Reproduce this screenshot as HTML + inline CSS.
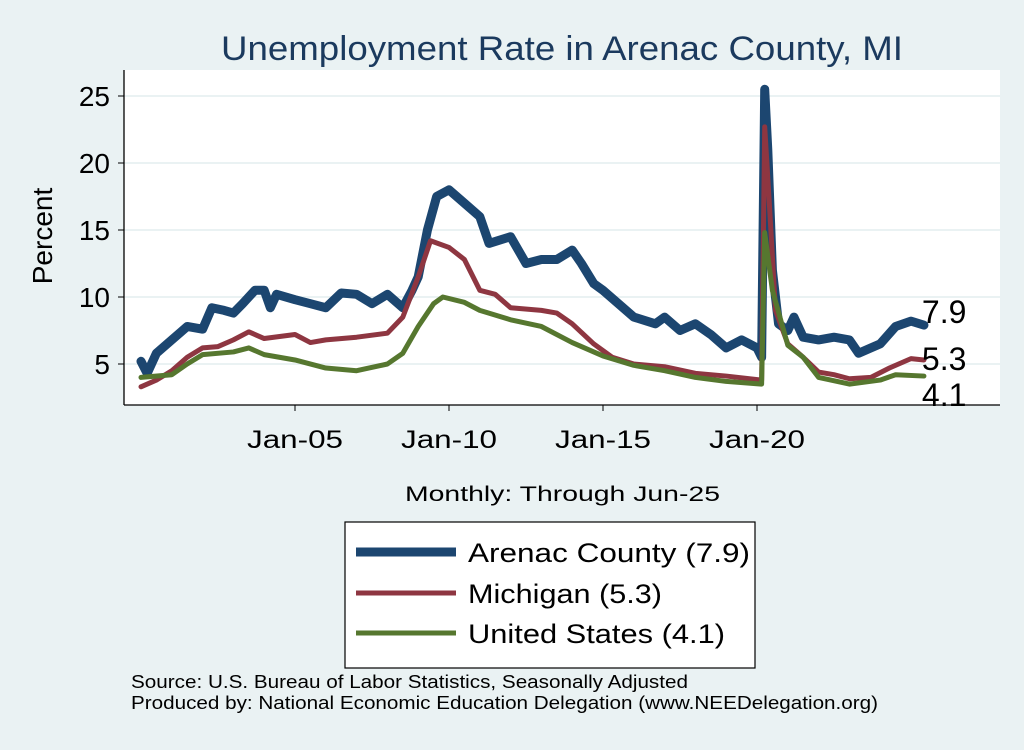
<!DOCTYPE html>
<html><head><meta charset="utf-8"><style>
body{margin:0;background:#eaf2f3;font-family:"Liberation Sans",sans-serif}
</style></head><body>
<svg width="1024" height="745" xmlns="http://www.w3.org/2000/svg" font-family="Liberation Sans, sans-serif">
<rect width="1024" height="745" fill="#eaf2f3"/>
<text x="221" y="60" font-size="34" fill="#1b3a5e" textLength="682" lengthAdjust="spacingAndGlyphs">Unemployment Rate in Arenac  County, MI</text>
<rect x="124" y="70" width="876" height="335" fill="#fff"/>
<g id="grid"></g>
<g id="series"></g>
<line x1="124" y1="70" x2="124" y2="405" stroke="#000" stroke-width="1.3"/>
<line x1="124" y1="405" x2="1000" y2="405" stroke="#000" stroke-width="1.3"/>
<g id="axes"></g>
<text x="52" y="236" font-size="28" text-anchor="middle" transform="rotate(-90 52 236)">Percent</text>
<text x="405" y="501" font-size="21" textLength="315" lengthAdjust="spacingAndGlyphs">Monthly: Through Jun-25</text>
<g>
<rect x="345" y="522" width="410" height="146" fill="#fff" stroke="#000" stroke-width="1.2"/>
<line x1="356" y1="552" x2="456" y2="552" stroke="#1c4670" stroke-width="9"/>
<text x="468" y="562" font-size="27" textLength="282" lengthAdjust="spacingAndGlyphs">Arenac  County (7.9)</text>
<line x1="356" y1="593" x2="456" y2="593" stroke="#8e3641" stroke-width="5"/>
<text x="468" y="603" font-size="27" textLength="194" lengthAdjust="spacingAndGlyphs">Michigan (5.3)</text>
<line x1="356" y1="633" x2="456" y2="633" stroke="#56772f" stroke-width="5"/>
<text x="468" y="643" font-size="27" textLength="257" lengthAdjust="spacingAndGlyphs">United States (4.1)</text>
</g>
<text x="131" y="688" font-size="18" textLength="557" lengthAdjust="spacingAndGlyphs">Source: U.S. Bureau of Labor Statistics, Seasonally Adjusted</text>
<text x="131" y="709" font-size="18" textLength="747" lengthAdjust="spacingAndGlyphs">Produced by: National Economic Education Delegation (www.NEEDelegation.org)</text>
</svg>
<script>
const yTicks=[5,10,15,20,25];
const xTickYears=[2005,2010,2015,2020];
const xTickLabels=["Jan-05","Jan-10","Jan-15","Jan-20"];
const arenacDates=[2000,2000.2,2000.5,2001,2001.3,2001.5,2002,2002.3,2002.7,2003,2003.3,2003.7,2004,2004.2,2004.4,2005,2005.5,2006,2006.5,2007,2007.5,2008,2008.5,2008.8,2009,2009.3,2009.6,2010,2010.5,2011,2011.3,2012,2012.5,2013,2013.5,2014,2014.3,2014.7,2015,2015.5,2016,2016.7,2017,2017.5,2018,2018.5,2019,2019.5,2020,2020.15,2020.25,2020.35,2020.5,2020.7,2021,2021.2,2021.5,2022,2022.5,2023,2023.3,2023.7,2024,2024.5,2025,2025.42];
const arenacValues=[5.2,4.3,5.8,6.8,7.4,7.8,7.6,9.2,9.0,8.8,9.5,10.5,10.5,9.2,10.2,9.8,9.5,9.2,10.3,10.2,9.5,10.2,9.2,10.5,11.5,15,17.5,18,17,16,14,14.5,12.5,12.8,12.8,13.5,12.5,11,10.5,9.5,8.5,8,8.5,7.5,8,7.2,6.2,6.8,6.2,5.5,25.5,21,12,8,7.5,8.5,7,6.8,7,6.8,5.8,6.2,6.5,7.8,8.2,7.9];
const michDates=[2000,2000.5,2001,2001.5,2002,2002.5,2003,2003.5,2004,2005,2005.5,2006,2007,2008,2008.5,2009,2009.4,2010,2010.5,2011,2011.5,2012,2013,2013.5,2014,2014.7,2015.3,2016,2017,2018,2019,2020.15,2020.25,2020.4,2020.6,2021,2021.5,2022,2022.5,2023,2023.7,2024.3,2025,2025.42];
const michValues=[3.3,3.8,4.5,5.5,6.2,6.3,6.8,7.4,6.9,7.2,6.6,6.8,7.0,7.3,8.5,11.5,14.2,13.7,12.8,10.5,10.2,9.2,9.0,8.8,8.0,6.5,5.5,5.0,4.8,4.3,4.1,3.8,22.7,17,9,6.5,5.5,4.4,4.2,3.9,4.0,4.7,5.4,5.3];
const usDates=[2000,2001,2001.5,2002,2003,2003.5,2004,2005,2006,2007,2008,2008.5,2009,2009.5,2009.8,2010.5,2011,2012,2013,2014,2015,2016,2017,2018,2019,2020.15,2020.25,2020.5,2021,2021.5,2022,2023,2024,2024.5,2025.42];
const usValues=[4.0,4.2,5.0,5.7,5.9,6.2,5.7,5.3,4.7,4.5,5.0,5.8,7.8,9.5,10.0,9.6,9.0,8.3,7.8,6.6,5.6,4.9,4.5,4.0,3.7,3.5,14.8,10.5,6.4,5.5,4.0,3.5,3.8,4.2,4.1];
const endLabels=["7.9","5.3","4.1"];
const NS="http://www.w3.org/2000/svg";
const X=y=>295+(y-2005)*30.8;
const Y=v=>431-v*13.4;
function mk(t,a,p){const e=document.createElementNS(NS,t);for(const k in a)e.setAttribute(k,a[k]);p.appendChild(e);return e;}
const grid=document.getElementById('grid'),axes=document.getElementById('axes'),ser=document.getElementById('series');
yTicks.forEach(v=>{
 const g=mk('line',{x1:124,x2:1000,y1:Y(v),y2:Y(v),stroke:'#eaf2f3','stroke-width':2},grid);
 
 
 const t=mk('line',{x1:118,x2:124,y1:Y(v),y2:Y(v),stroke:'#000'},axes);
 
 
 const l=mk('text',{x:110,y:Y(v)+10,'font-size':28,'text-anchor':'end'},axes);l.textContent=v;
 
 
});
xTickYears.forEach((yr,i)=>{
 const t=mk('line',{x1:X(yr),x2:X(yr),y1:405,y2:411,stroke:'#000'},axes);
 
 
 const l=mk('text',{x:X(yr)-48,y:448,'font-size':25,textLength:96,lengthAdjust:'spacingAndGlyphs'},axes);l.textContent=xTickLabels[i];
 
 
});
function line(d,v,c,w,name){
 const p=mk('polyline',{points:d.map((x,i)=>X(x)+','+Y(v[i])).join(' '),fill:'none',stroke:c,'stroke-width':w,'stroke-linejoin':'round','stroke-linecap':'round'},ser);
 
 
}
line(arenacDates,arenacValues,'#1c4670',9,'series-arenac');
line(michDates,michValues,'#8e3641',5,'series-michigan');
line(usDates,usValues,'#56772f',5,'series-us');
const ends=[[arenacDates,arenacValues],[michDates,michValues],[usDates,usValues]];
const offs=[-2,10,30];
ends.forEach((s,i)=>{
 const n=s[0].length-1;
 const t=mk('text',{x:X(s[0][n])-2,y:Y(s[1][n])+offs[i],'font-size':32},ser);
 t.textContent=endLabels[i];
 
 
});
</script>
</body></html>
